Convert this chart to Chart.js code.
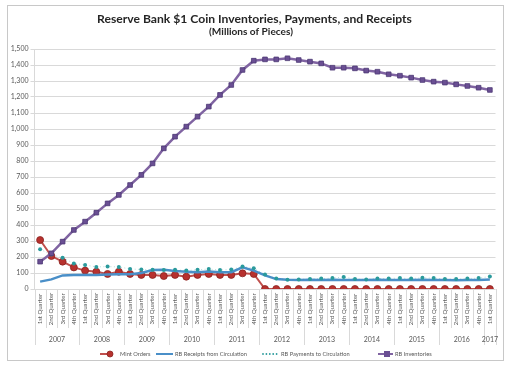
<!DOCTYPE html>
<html><head><meta charset="utf-8">
<script src="https://cdn.jsdelivr.net/npm/chart.js@4/dist/chart.umd.min.js"></script>
<style>html,body{margin:0;padding:0;background:#fff;}canvas{display:block;}</style>
</head><body>
<canvas id="c" width="510" height="371"></canvas>
<script>
// ---- data ----
const years = ['2007','2008','2009','2010','2011','2012','2013','2014','2015','2016','2017'];
const quarterNames = ['1st Quarter','2nd Quarter','3rd Quarter','4th Quarter'];
const quartersPerYear = [4,4,4,4,4,4,4,4,4,4,1];
const yTicks = [0,100,200,300,400,500,600,700,800,900,1000,1100,1200,1300,1400,1500];

const mintOrders = [306,206,171,135,115,108,94,108,94,88,88,81,88,77,88,94,88,88,98,94,
  0,0,0,0,0,0,0,0,0,0,0,0,0,0,0,0,0,0,0,0,0];
const rbReceipts = [46,60,85,88,88,88,90,92,92,100,118,120,112,108,105,110,105,105,135,115,
  85,62,58,57,58,57,58,57,56,57,58,57,56,57,58,57,56,55,56,57,60];
const rbPayments = [248,215,195,160,150,138,140,138,125,122,120,118,120,115,120,125,118,122,140,130,
  90,65,58,60,62,65,68,75,62,60,65,66,68,65,70,68,63,62,65,68,78];
const rbInventories = [171,223,296,369,421,477,535,588,650,713,785,879,952,1015,1077,1140,1213,1275,1369,1427,
  1435,1435,1442,1431,1421,1410,1383,1383,1379,1365,1358,1342,1333,1321,1306,1296,1290,1279,1269,1258,1244];

// category labels
const categories = [];
years.forEach((y, yi) => { for (let q = 0; q < quartersPerYear[yi]; q++) { categories.push(quarterNames[q]); } });

const FONT = 'Lato, "Open Sans", sans-serif';
const GRID = '#d9d9d9';
const TXT = '#595959';

const colors = {
  mint: '#c0504d', mintPt: '#b7312e', mintPtB: '#8a2321',
  rec: '#4a8fc8',
  pay: '#2a9a9c',
  inv: '#8064a2', invPt: '#6a4f93', invPtB: '#4d3875'
};

function fitFont(ctx, text, weight, targetW) {
  ctx.font = weight + '10px ' + FONT;
  const w = ctx.measureText(text).width;
  return weight + (10 * targetW / w).toFixed(2) + 'px ' + FONT;
}

const overlay = {
  id: 'overlay',
  beforeDraw(chart) {
    const ctx = chart.ctx;
    ctx.save();
    ctx.fillStyle = '#fff';
    ctx.fillRect(0, 0, chart.width, chart.height);
    ctx.strokeStyle = '#c8c8c8';
    ctx.lineWidth = 1;
    ctx.strokeRect(7.5, 5.5, 496, 355);
    ctx.restore();
  },
  afterDraw(chart) {
    const ctx = chart.ctx;
    const xs = chart.scales.x;
    const area = chart.chartArea;
    ctx.save();
    // titles
    ctx.fillStyle = '#262626';
    ctx.textAlign = 'center';
    ctx.textBaseline = 'middle';
    const t1 = 'Reserve Bank $1 Coin Inventories, Payments, and Receipts';
    ctx.font = fitFont(ctx, t1, 'bold ', 315);
    ctx.fillText(t1, 254.5, 19.5);
    const t2 = '(Millions of Pieces)';
    ctx.font = fitFont(ctx, t2, 'bold ', 84);
    ctx.fillText(t2, 251, 31.5);

    // x-axis category labels
    const half = (xs.getPixelForTick(1) - xs.getPixelForTick(0)) / 2;
    const bottom = area.bottom;
    ctx.strokeStyle = GRID;
    ctx.lineWidth = 1;
    ctx.beginPath();
    for (let i = 0; i <= categories.length; i++) {
      const x = Math.round((i < categories.length ? xs.getPixelForTick(i) - half : xs.getPixelForTick(i - 1) + half)) + 0.5;
      const isYear = (i === 0) || (i === categories.length) || (i % 4 === 0);
      ctx.moveTo(x, bottom);
      ctx.lineTo(x, bottom + (isYear ? 56 : 39));
    }
    ctx.stroke();

    ctx.fillStyle = TXT;
    ctx.font = '6px ' + FONT;
    ctx.textAlign = 'center';
    ctx.textBaseline = 'middle';
    categories.forEach((lab, i) => {
      const x = xs.getPixelForTick(i);
      ctx.save();
      ctx.translate(x, bottom + 20);
      ctx.rotate(-Math.PI / 2);
      ctx.fillText(lab, 0, 0);
      ctx.restore();
    });
    // year labels
    ctx.font = '7px ' + FONT;
    let start = 0;
    years.forEach((y, yi) => {
      const n = quartersPerYear[yi];
      const x0 = xs.getPixelForTick(start) - half;
      const x1 = xs.getPixelForTick(start + n - 1) + half;
      ctx.fillText(y, (x0 + x1) / 2, bottom + 51);
      start += n;
    });

    // legend
    const ly = 354;
    ctx.font = fitFont(ctx, 'RB Receipts from Circulation', '', 72);
    ctx.textAlign = 'left';
    ctx.textBaseline = 'middle';
    // Mint Orders
    ctx.strokeStyle = colors.mint; ctx.lineWidth = 2;
    ctx.beginPath(); ctx.moveTo(100, ly); ctx.lineTo(110, ly); ctx.stroke();
    ctx.fillStyle = colors.mintPt; ctx.strokeStyle = colors.mintPtB; ctx.lineWidth = 0.8;
    ctx.beginPath(); ctx.arc(110, ly, 3, 0, Math.PI * 2); ctx.fill(); ctx.stroke();
    ctx.fillStyle = TXT; ctx.fillText('Mint Orders', 120, ly);
    // Receipts
    ctx.strokeStyle = colors.rec; ctx.lineWidth = 2;
    ctx.beginPath(); ctx.moveTo(156, ly); ctx.lineTo(173, ly); ctx.stroke();
    ctx.fillStyle = TXT; ctx.fillText('RB Receipts from Circulation', 175, ly);
    // Payments
    ctx.fillStyle = colors.pay;
    for (let k = 0; k < 5; k++) { ctx.beginPath(); ctx.arc(263 + k * 3.4, ly, 0.9, 0, Math.PI * 2); ctx.fill(); }
    ctx.fillStyle = TXT; ctx.fillText('RB Payments to Circulation', 281, ly);
    // Inventories
    ctx.strokeStyle = colors.inv; ctx.lineWidth = 2;
    ctx.beginPath(); ctx.moveTo(378, ly); ctx.lineTo(393, ly); ctx.stroke();
    ctx.fillStyle = colors.invPt; ctx.fillRect(384, ly - 3, 6, 6);
    ctx.fillStyle = TXT; ctx.fillText('RB Inventories', 395, ly);
    ctx.restore();
  }
};

new Chart(document.getElementById('c'), {
  type: 'line',
  data: {
    labels: categories,
    datasets: [
      { label: 'Mint Orders', data: mintOrders, borderColor: colors.mint, borderWidth: 2,
        pointStyle: 'circle', pointRadius: 3.5, pointBackgroundColor: colors.mintPt,
        pointBorderColor: colors.mintPtB, pointBorderWidth: 0.8, order: 3, tension: 0 },
      { label: 'RB Receipts from Circulation', data: rbReceipts, borderColor: colors.rec, borderWidth: 2.5,
        pointRadius: 0, order: 2, tension: 0 },
      { label: 'RB Payments to Circulation', data: rbPayments, borderColor: 'rgba(42,154,156,0.35)', borderWidth: 1,
        borderDash: [1, 2.5], pointStyle: 'circle', pointRadius: 2, pointBackgroundColor: colors.pay,
        pointBorderColor: colors.pay, pointBorderWidth: 0, order: 1, tension: 0 },
      { label: 'RB Inventories', data: rbInventories, borderColor: colors.inv, borderWidth: 2.5,
        pointStyle: 'rect', pointRadius: 3.3, pointBackgroundColor: colors.invPt,
        pointBorderColor: colors.invPtB, pointBorderWidth: 0.8, order: 0, tension: 0 }
    ]
  },
  options: {
    responsive: false,
    animation: false,
    devicePixelRatio: 1,
    layout: { padding: { left: 7, right: 14.5, top: 49, bottom: 0 } },
    plugins: { legend: { display: false }, title: { display: false }, tooltip: { enabled: false } },
    scales: {
      x: {
        type: 'category', offset: true,
        grid: { display: false },
        border: { display: false },
        ticks: { display: false },
        afterFit(scale) { scale.height = 82; }
      },
      y: {
        min: 0, max: 1500,
        afterBuildTicks(scale) { scale.ticks = yTicks.map(v => ({ value: v })); },
        grid: { color: GRID, lineWidth: 1, tickLength: 4, drawTicks: true },
        border: { display: true, color: GRID },
        ticks: { font: { family: FONT, size: 7 }, color: TXT, padding: 2,
          callback: v => v.toLocaleString('en-US') },
        afterFit(scale) { scale.width = 27.5; }
      }
    }
  },
  plugins: [overlay]
});
</script>
</body></html>
